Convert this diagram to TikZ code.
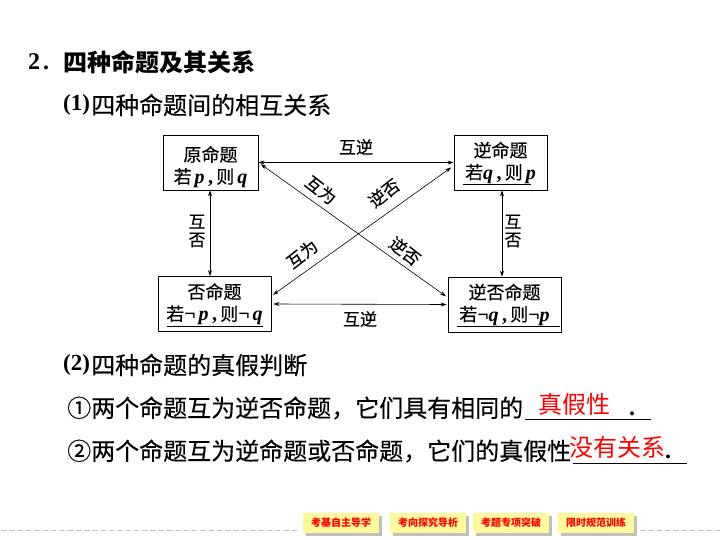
\documentclass[tikz,border=0pt]{standalone}
\usepackage{fontspec}
\setmainfont{Liberation Serif}
\newfontfamily\cjk[FakeBold=0.25]{Noto Sans CJK SC}
\newfontfamily\cjkplain{Noto Sans CJK SC}
\usetikzlibrary{arrows.meta,calc}
\newcommand{\va}[1]{{\fontspec{Liberation Serif}\fontsize{20}{20}\selectfont\bfseries\itshape #1}}
\newcommand{\sm}{{\fontspec{Liberation Serif}\fontsize{20}{20}\selectfont\bfseries ¬}}
\newcommand{\cm}{{\fontspec{Liberation Serif}\fontsize{20}{20}\selectfont\bfseries\,,\,}}
\newcommand{\lift}[1]{\rule{0pt}{#1}}
\tikzset{
  body/.style={anchor=west,inner sep=0pt,font=\fontsize{24}{24}\selectfont\cjk,text=black},
  boxn/.style={draw=black,line width=0.8pt,minimum width=#1,inner sep=0pt,minimum height=55pt,align=center,font=\fontsize{18}{23}\selectfont\cjk},
  boxn/.default=95pt,
  conn/.style={line width=0.6pt,{Stealth[length=6pt,width=4pt]}-{Stealth[length=6pt,width=4pt]}},
  lab/.style={inner sep=0pt,font=\fontsize{17}{18}\selectfont\cjk},
  ans/.style={inner sep=0pt,anchor=center,font=\fontsize{24}{24}\selectfont\cjkplain,text=red},
  rule/.style={line width=0.9pt,black},
  btn/.style={fill=yellow!40,minimum width=76pt,minimum height=20pt,inner sep=0pt,text=red,font=\fontsize{10}{10}\selectfont\cjkplain\bfseries},
  shd/.style={fill=black!25,minimum width=76pt,minimum height=20pt,inner sep=0pt},
  dashrule/.style={black!25,line width=1pt,dash pattern=on 5.5pt off 2.8pt}
}
\begin{document}
\begin{tikzpicture}[x=1pt,y=-1pt]
\useasboundingbox (0,0) rectangle (720,540);
\fill[white] (0,0) rectangle (720,540);
% headings
\node[body,font=\fontsize{24}{24}\selectfont\cjkplain\bfseries] (t1) at (63,62) {四种命题及其关系};
\node[anchor=west,inner sep=0pt,font=\fontsize{24}{24}\selectfont\bfseries] (n2) at (28,62) {2\hspace{3pt}.};
\node[anchor=west,inner sep=0pt,font=\fontsize{23}{24}\selectfont\bfseries] (n1a) at (63,105) {(1)};
\node[body] (t2) at (91,105) {四种命题间的相互关系};
\node[anchor=west,inner sep=0pt,font=\fontsize{23}{24}\selectfont\bfseries] (n2a) at (63,365) {(2)};
\node[body] (t3) at (91,365) {四种命题的真假判断};
\node[body] (l1) at (67,408) {①两个命题互为逆否命题，它们具有相同的};
\node[body] (l2) at (67,451) {②两个命题互为逆命题或否命题，它们的真假性};
% answers
\node[ans] (a1) at (574,404) {真假性};
\node[ans] (a2) at (617,447) {没有关系};
\node[inner sep=0pt,font=\fontsize{24}{24}\selectfont\bfseries] (d1) at (632,414) {.};
\node[inner sep=0pt,font=\fontsize{24}{24}\selectfont\bfseries] (d2) at (668,457) {.};
\draw[rule] (525,419) -- (651,419);
\draw[rule] (573,463) -- (687,463);
% boxes
\node[boxn] (a) at (210.5,162.5) {\lift{24pt}原命题\\[-1pt]若\,\va{p}\cm 则\,\va{q}};
\node[boxn=113pt] (b) at (214.5,304) {否命题\\[-1pt]若\sm\,\va{p}\cm 则\sm\,\va{q}};
\node[boxn=93pt] (c) at (500.5,162.5) {逆命题\\[-1pt]若\va{q}\cm 则\,\va{p}};
\node[boxn=113pt] (d) at (504.5,304.5) {逆否命题\\[-1pt]若\sm\va{q}\cm 则\sm\va{p}};
\draw[line width=0.8pt] (167,326) -- (263,326);
\draw[line width=0.8pt] (463,184) -- (531,184);
\draw[line width=0.8pt] (457,326) -- (560,326);
% connectors
\coordinate (lv) at (210,0);
\coordinate (rv) at (502,0);
\draw[conn] (a.east) -- (c.west);
\draw[conn,shorten <=2pt,shorten >=1pt] (b.east) -- (d.west);
\draw[conn] (a.south -| lv) -- (b.north -| lv);
\draw[conn] (c.south -| rv) -- (d.north -| rv);
\draw[conn,shorten <=3pt,shorten >=2pt] (a.east) -- (d.173);
\draw[conn,shorten <=2pt,shorten >=3pt] (b.8) -- (c.184);
% labels
\node[lab] (m1) at (356,147) {互逆};
\node[lab] (m2) at (360,319) {互逆};
\node[lab,align=center] (m3) at (197,231) {互\\否};
\node[lab,align=center] (m4) at (513,231) {互\\否};
\node[lab,rotate=-38] (m5) at (321,190) {互为};
\node[lab,rotate=38] (m6) at (384,193) {逆否};
\node[lab,rotate=38] (m7) at (302,254) {互为};
\node[lab,rotate=-38] (m8) at (405,251) {逆否};
% footer
\draw[dashrule] (1,530.7) -- (298,530.7);
\draw[dashrule] (640,530.7) -- (720,530.7);
\node[shd] (s1) at (344,526) {};
\node[shd] (s2) at (431,526) {};
\node[shd] (s3) at (514,526) {};
\node[shd] (s4) at (599,526) {};
\node[btn] (b1) at (341,523) {考基自主导学};
\node[btn] (b2) at (428,523) {考向探究导析};
\node[btn] (b3) at (511,523) {考题专项突破};
\node[btn] (b4) at (596,523) {限时规范训练};
\end{tikzpicture}
\end{document}
